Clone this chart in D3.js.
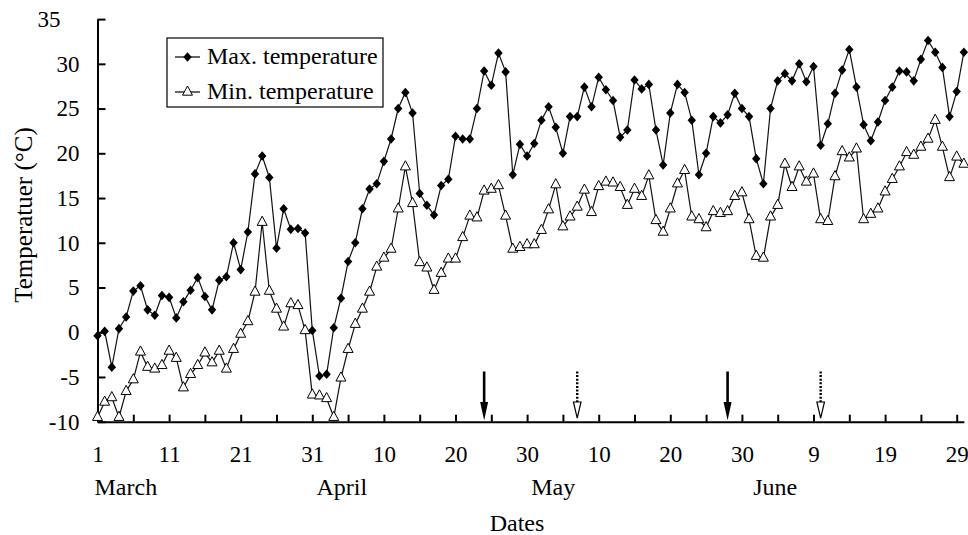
<!DOCTYPE html>
<html><head><meta charset="utf-8">
<script src="https://cdn.jsdelivr.net/npm/d3@7"></script>
<style>
body{margin:0;background:#fff}
svg{display:block}
text{font-family:"Liberation Serif","Times New Roman",serif;fill:#000}
</style>
</head><body>
<svg id="c" width="968" height="535"></svg>
<script>
// Daily values from 1 March (day 0) to 30 June (day 121)
const maxTemp=[-0.4,0.1,-3.9,0.4,1.7,4.6,5.2,2.5,1.9,4.1,3.9,1.6,3.4,4.7,6.1,4.0,2.5,5.8,6.2,10.0,
7.0,11.2,17.7,19.7,17.3,9.4,13.8,11.5,11.6,11.1,0.2,-4.9,-4.7,0.5,3.8,7.9,10.0,13.8,16.0,16.6,
19.1,21.6,25.0,26.8,24.5,15.5,14.2,13.1,16.4,17.1,21.9,21.6,21.6,25.0,29.2,27.6,31.2,29.1,17.6,21.0,
19.7,21.1,23.7,25.2,22.9,20.0,24.1,24.1,27.4,25.2,28.5,27.1,25.9,21.8,22.6,28.2,27.2,27.7,22.6,18.7,
24.5,27.7,26.8,23.7,17.6,20.0,24.1,23.4,24.3,26.7,25.0,24.1,19.4,16.6,25.0,28.1,28.9,28.1,30.0,28.0,
29.7,20.9,23.3,26.7,29.3,31.6,27.4,23.2,21.4,23.5,25.9,27.4,29.2,29.1,28.1,30.5,32.6,31.3,29.6,24.1,
26.9,31.3];
const minTemp=[-9.5,-7.8,-7.3,-9.5,-6.6,-5.3,-2.2,-3.9,-4.1,-3.7,-2.1,-2.9,-6.2,-4.7,-3.7,-2.3,-3.4,-2.1,-4.1,-1.9,
-0.2,1.2,4.5,12.3,4.6,2.6,0.6,3.2,3.0,0.2,-7.0,-7.1,-7.4,-9.5,-5.1,-1.9,0.9,2.6,4.5,7.3,
8.3,9.3,13.8,18.5,14.4,7.8,7.2,4.7,6.6,8.2,8.2,10.6,13.0,12.8,15.8,16.0,16.4,13.0,9.3,9.5,
9.8,9.8,11.4,13.7,16.5,11.8,12.9,14.0,15.9,13.4,16.3,16.8,16.7,16.2,14.2,16.0,15.2,17.5,12.5,11.2,
13.8,16.6,18.1,12.9,12.6,11.7,13.5,13.3,13.5,15.2,15.6,12.6,8.5,8.3,12.9,14.2,18.8,16.2,18.5,16.8,
17.7,12.6,12.4,17.4,20.2,19.5,20.5,12.6,13.2,13.8,15.7,17.1,18.5,20.1,19.8,20.7,21.6,23.7,20.7,17.3,
19.6,18.8];
const seriesNames=["Max. temperature","Min. temperature"];
const yTicks=[-10,-5,0,5,10,15,20,25,30,35];
const xTickDays=[0,10,20,30,40,50,60,70,80,90,100,110,120];
const xTickLabels=["1","11","21","31","10","20","30","10","20","30","9","19","29"];
const months=["March","April","May","June"];
const monthStartDays=[0,31,61,92];
const solidArrowDays=[54,88];
const dashedArrowDays=[67,101];
const xTitle="Dates";
const yTitle="Temperatuer (°C)";

const svg=d3.select("#c");
const x=d3.scaleLinear().domain([0,121]).range([97.5,97.5+121*7.16]);
const y=d3.scaleLinear().domain([-10,35]).range([421.7,19.1]);

// axes
const gx=svg.append("g").attr("transform",`translate(0,${y(-10)})`)
  .call(d3.axisBottom(x).tickValues(d3.range(0,121,5)).tickSize(-7).tickSizeOuter(0).tickFormat(""));
gx.select(".domain").attr("stroke","#000").attr("stroke-width",2);
gx.selectAll(".tick line").attr("stroke","#000").attr("stroke-width",2);

const gxl=svg.append("g").attr("transform",`translate(0,${y(-10)})`)
  .call(d3.axisBottom(x).tickValues(xTickDays).tickSize(0).tickPadding(24).tickFormat((d,i)=>xTickLabels[i]));
gxl.select(".domain").remove();
gxl.selectAll("text").attr("font-size",23).attr("font-family",'"Liberation Serif",serif');

const gy=svg.append("g").attr("transform",`translate(${x(0)},0)`)
  .call(d3.axisLeft(y).tickValues(yTicks).tickSize(-8).tickSizeOuter(0).tickPadding(18).tickFormat(d=>String(d)));
gy.select(".domain").attr("stroke","#000").attr("stroke-width",2);
gy.selectAll(".tick line").attr("stroke","#000").attr("stroke-width",2);
gy.selectAll("text").attr("font-size",23).attr("font-family",'"Liberation Serif",serif')
  .attr("dx",d=>d===35?-19:0);

// month labels
svg.append("g").selectAll("text").data(months).join("text")
  .attr("x",(d,i)=>x(monthStartDays[i])-3).attr("y",495)
  .attr("font-size",24).text(d=>d);

svg.append("text").attr("x",517).attr("y",531).attr("text-anchor","middle")
  .attr("font-size",24).text(xTitle);
svg.append("text").attr("transform","translate(32,215) rotate(-90)").attr("text-anchor","middle")
  .attr("font-size",25).text(yTitle);

// lines
const line=d3.line().x((d,i)=>x(i)).y(d=>y(d));
[maxTemp,minTemp].forEach(s=>{
  svg.append("path").datum(s).attr("d",line).attr("fill","none").attr("stroke","#111").attr("stroke-width",1.2);
});
const diamond="M0,-4.8L4.2,0L0,4.8L-4.2,0Z";
const tri="M0,-6L5,3.2L-5,3.2Z";
svg.append("g").selectAll("path").data(minTemp).join("path")
  .attr("transform",(d,i)=>`translate(${x(i)},${y(d)})`).attr("d",tri)
  .attr("fill","#fff").attr("stroke","#000").attr("stroke-width",1);
svg.append("g").selectAll("path").data(maxTemp).join("path")
  .attr("transform",(d,i)=>`translate(${x(i)},${y(d)})`).attr("d",diamond)
  .attr("fill","#000");

// arrows
const ay0=371.5, ahead=402, atip=y(-10)-1.5;
solidArrowDays.forEach(d=>{
  const cx=x(d);
  svg.append("line").attr("x1",cx).attr("x2",cx).attr("y1",ay0).attr("y2",ahead+2)
    .attr("stroke","#000").attr("stroke-width",2.6);
  svg.append("path").attr("d",`M${cx-4},${ahead}L${cx+4},${ahead}L${cx},${atip}Z`).attr("fill","#000");
});
dashedArrowDays.forEach(d=>{
  const cx=x(d);
  svg.append("line").attr("x1",cx).attr("x2",cx).attr("y1",ay0).attr("y2",ahead)
    .attr("stroke","#000").attr("stroke-width",2.4).attr("stroke-dasharray","2,1.6");
  svg.append("path").attr("d",`M${cx-3.8},${ahead}L${cx+3.8},${ahead}L${cx},${atip-2}Z`)
    .attr("fill","#fff").attr("stroke","#000").attr("stroke-width",1.2);
});

// legend
const lg=svg.append("g");
lg.append("rect").attr("x",167).attr("y",38).attr("width",216).attr("height",69)
  .attr("fill","#fff").attr("stroke","#000").attr("stroke-width",1.2);
const rows=[{y:57,shape:diamond,fill:"#000"},{y:92,shape:tri,fill:"#fff"}];
rows.forEach((r,i)=>{
  lg.append("line").attr("x1",175).attr("x2",200).attr("y1",r.y).attr("y2",r.y).attr("stroke","#000").attr("stroke-width",1.2);
  lg.append("path").attr("transform",`translate(187.5,${r.y})`).attr("d",r.shape)
    .attr("fill",r.fill).attr("stroke",i?"#000":"none");
  lg.append("text").attr("x",207).attr("y",r.y+7).attr("font-size",24).text(seriesNames[i]);
});
</script>
</body></html>
